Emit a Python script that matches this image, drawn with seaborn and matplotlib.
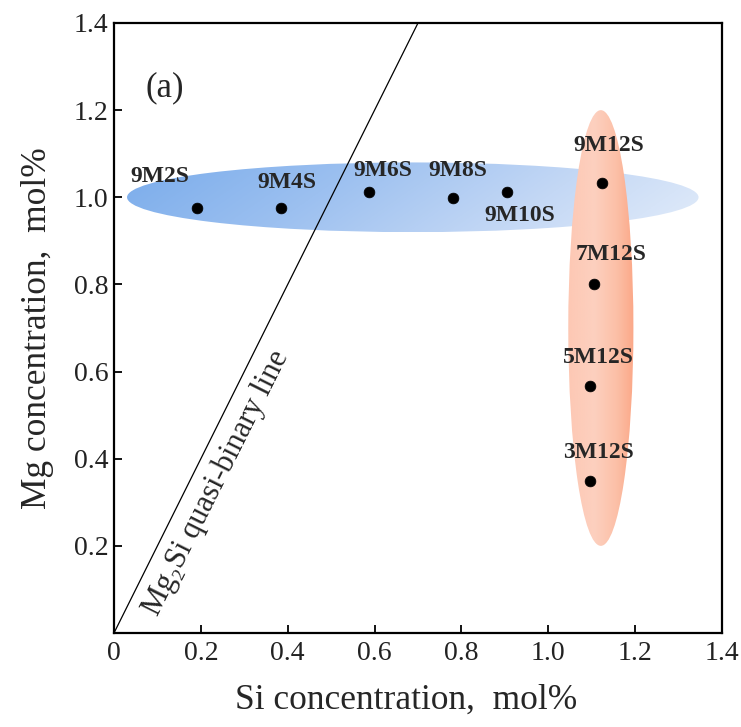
import numpy as np
import pandas as pd
import matplotlib
matplotlib.use("Agg")
import matplotlib.pyplot as plt
import seaborn as sns
from matplotlib.patches import Ellipse
from matplotlib.colors import LinearSegmentedColormap

# ---- data ----
samples = ["9M2S", "9M4S", "9M6S", "9M8S", "9M10S", "9M12S", "7M12S", "5M12S", "3M12S"]
si_conc = [0.19, 0.385, 0.588, 0.781, 0.905, 1.123, 1.105, 1.097, 1.097]
mg_conc = [0.975, 0.975, 1.011, 0.998, 1.011, 1.032, 0.800, 0.567, 0.349]
line_si = [0.0, 0.7]
line_mg = [0.0, 1.4]
x_ticks = [0, 0.2, 0.4, 0.6, 0.8, 1.0, 1.2, 1.4]
x_ticklabels = ["0", "0.2", "0.4", "0.6", "0.8", "1.0", "1.2", "1.4"]
y_ticks = [0, 0.2, 0.4, 0.6, 0.8, 1.0, 1.2, 1.4]
y_ticklabels = ["", "0.2", "0.4", "0.6", "0.8", "1.0", "1.2", "1.4"]

# label offsets in pixels (layout)
label_offsets = [(-37, 32), (6, 26), (13, 22), (5, 28), (13, -23), (7, 38), (17, 30), (8, 28), (8, 28)]

sns.set_style("white")
plt.rcParams["font.family"] = ["Liberation Serif", "DejaVu Serif"]

fig = plt.figure(figsize=(7.41, 7.27), dpi=100)
ax = fig.add_axes([114 / 741, 1 - 633 / 727, 608 / 741, 610 / 727])

def gradient_ellipse(ax, center, w, h, cmap, zorder, vertical=None):
    e = Ellipse(center, w, h, facecolor="none", edgecolor="none", zorder=zorder)
    ax.add_patch(e)
    nx, ny = 300, 300
    gx = np.linspace(0, 1, nx)[None, :].repeat(ny, axis=0)
    gy = np.linspace(0, 1, ny)[:, None].repeat(nx, axis=1)
    g = gx if vertical is None else np.clip(gx * (1 - vertical) + vertical * gy, 0, 1)
    x0, x1 = center[0] - w / 2, center[0] + w / 2
    y0, y1 = center[1] - h / 2, center[1] + h / 2
    im = ax.imshow(g, extent=[x0, x1, y0, y1], origin="upper", cmap=cmap,
                   aspect="auto", zorder=zorder, interpolation="bilinear",
                   vmin=0, vmax=1)
    im.set_clip_path(e)

blue_cmap = LinearSegmentedColormap.from_list(
    "b", [(0, "#7aaceb"), (0.35, "#9cc0f0"), (0.7, "#c4d8f5"), (1, "#e2ecfa")])
orange_cmap = LinearSegmentedColormap.from_list(
    "o", [(0, "#fdc8b4"), (0.4, "#fdd0bf"), (0.75, "#fcbfa6"), (1, "#fba888")])

gradient_ellipse(ax, (0.688, 1.0), 1.316, 0.16, blue_cmap, 1, vertical=0.15)
gradient_ellipse(ax, (1.121, 0.70), 0.15, 1.0, orange_cmap, 2)

ax.plot(line_si, line_mg, color="black", lw=0.9, zorder=3)

df = pd.DataFrame({"Si": si_conc, "Mg": mg_conc, "sample": samples})
sns.scatterplot(data=df, x="Si", y="Mg", color="black", s=60, edgecolor="black",
                linewidth=0.5, zorder=5, ax=ax, legend=False)

for name, xv, yv, (dx, dy) in zip(samples, si_conc, mg_conc, label_offsets):
    ax.annotate(name, (xv, yv), xytext=(dx, dy), textcoords="offset pixels",
                ha="center", va="center", fontsize=17, fontweight="bold", zorder=6)

ax.text(0.235, 0.345, "Mg\u2082Si quasi-binary line", rotation=63.4,
        rotation_mode="anchor", ha="center", va="center", fontsize=22, zorder=6,
        transform=ax.transData, family=["Liberation Serif", "DejaVu Serif"])
ax.text(0.1175, 1.252, "(a)", fontsize=25, ha="center", va="center")

ax.set_xlim(0, 1.4)
ax.set_ylim(0, 1.4)
ax.set_xticks(x_ticks)
ax.set_xticklabels(x_ticklabels)
ax.set_yticks(y_ticks)
ax.set_yticklabels(y_ticklabels)
ax.tick_params(direction="in", length=6, width=1.3, labelsize=20, color="black",
               labelcolor="#222222", top=False, right=False, bottom=True, left=True)
ax.tick_params(axis="x", pad=6)
ax.tick_params(axis="y", pad=4)
for sp in ax.spines.values():
    sp.set_color("black")
    sp.set_linewidth(1.6)
ax.set_xlabel("Si concentration,  mol%", fontsize=25.5)
ax.set_ylabel("Mg concentration,  mol%", fontsize=25.5, labelpad=14)
ax.xaxis.set_label_coords((406 - 114) / 608, -(700 - 633) / 610)
ax.xaxis.label.set_va("center")

fig.savefig("out.png", dpi=100)
